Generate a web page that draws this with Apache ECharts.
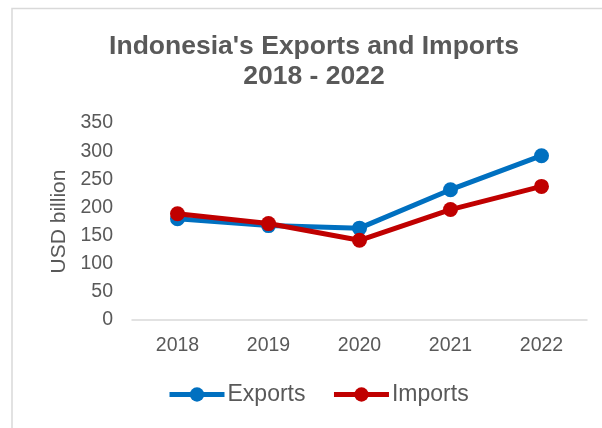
<!DOCTYPE html>
<html>
<head>
<meta charset="utf-8">
<script src="https://cdn.jsdelivr.net/npm/echarts@6/dist/echarts.min.js"></script>
<style>
html,body{margin:0;padding:0;background:#fff;}
#chart{width:602px;height:428px;}
</style>
</head>
<body>
<div id="chart"></div>
<script>
const years = ['2018', '2019', '2020', '2021', '2022'];
const exportsData = [180.0, 167.7, 163.2, 231.5, 291.9];
const importsData = [188.7, 171.3, 141.6, 196.2, 237.4];
const yTicks = { min: 0, max: 350, interval: 50 };

const FONT = '"Liberation Sans", Arial, sans-serif';
const TXT = '#595959';

const chart = echarts.init(document.getElementById('chart'), null, { renderer: 'canvas' });
chart.setOption({
  backgroundColor: '#ffffff',
  animation: false,
  title: {
    text: "Indonesia's Exports and Imports\n2018 - 2022",
    left: 314,
    top: 32,
    padding: 0,
    textAlign: 'center',
    textStyle: { fontFamily: FONT, fontSize: 26.5, fontWeight: 'bold', color: TXT, lineHeight: 30 }
  },
  graphic: [{
    type: 'rect', z: -10, silent: true,
    shape: { x: 12, y: 8.5, width: 800, height: 600 },
    style: { fill: 'none', stroke: '#d9d9d9', lineWidth: 1.5 }
  }],
  legend: {
    left: 167,
    top: 383,
    padding: 0,
    itemWidth: 55,
    itemHeight: 18,
    itemGap: 26,
    lineStyle: { width: 5 },
    textStyle: { fontFamily: FONT, fontSize: 23, color: TXT, padding: [0, 0, 0, -2] },
    data: ['Exports', 'Imports']
  },
  grid: { left: 132, right: 15, top: 123, bottom: 108, containLabel: false },
  xAxis: {
    type: 'category',
    data: years,
    boundaryGap: true,
    axisLine: { lineStyle: { color: '#d9d9d9', width: 1.5 } },
    axisTick: { show: false },
    axisLabel: { fontFamily: FONT, fontSize: 19.5, color: TXT, margin: 16 },
    splitLine: { show: false }
  },
  yAxis: {
    type: 'value',
    min: yTicks.min, max: yTicks.max, interval: yTicks.interval,
    name: 'USD billion',
    nameLocation: 'middle',
    nameRotate: 90,
    nameGap: 60,
    nameTextStyle: { fontFamily: FONT, fontSize: 21, color: TXT },
    axisLine: { show: false },
    axisTick: { show: false },
    splitLine: { show: false },
    axisLabel: { fontFamily: FONT, fontSize: 19.5, color: TXT, margin: 19 }
  },
  series: [
    {
      name: 'Exports', type: 'line', data: exportsData,
      symbol: 'circle', symbolSize: 15,
      lineStyle: { color: '#0070C0', width: 5 },
      itemStyle: { color: '#0070C0' },
      z: 2
    },
    {
      name: 'Imports', type: 'line', data: importsData,
      symbol: 'circle', symbolSize: 15,
      lineStyle: { color: '#C00000', width: 5 },
      itemStyle: { color: '#C00000' },
      z: 3
    }
  ]
});
</script>
</body>
</html>
